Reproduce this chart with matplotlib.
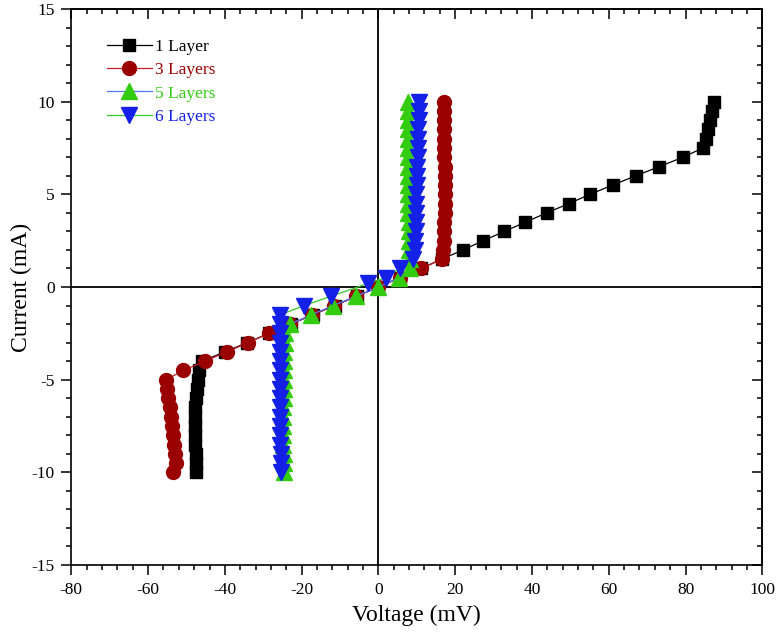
import matplotlib
matplotlib.use("Agg")
import matplotlib.pyplot as plt
from matplotlib.ticker import MultipleLocator

plt.rcParams['font.family'] = ['Liberation Serif', 'DejaVu Serif']
plt.rcParams['axes.unicode_minus'] = False

# Current values (mA), common to all series
current = [-10, -9.5, -9, -8.5, -8, -7.5, -7, -6.5, -6, -5.5, -5, -4.5, -4, -3.5, -3,
           -2.5, -2, -1.5, -1, -0.5, 0, 0.5, 1, 1.5, 2, 2.5, 3, 3.5, 4, 4.5, 5, 5.5,
           6, 6.5, 7, 7.5, 8, 8.5, 9, 9.5, 10]

v_1layer = [-47.4, -47.5, -47.6, -47.7, -47.8, -47.8, -47.8, -47.7, -47.5, -47.3, -47.1,
            -46.8, -46.0, -40.0, -34.2, -28.5, -22.8, -17.1, -11.4, -5.7, 0.0, 5.5, 11.0,
            16.5, 22.0, 27.3, 32.8, 38.3, 43.8, 49.6, 55.1, 61.0, 67.0, 73.2, 79.3, 84.5,
            85.2, 85.8, 86.4, 87.0, 87.5]

v_3layers = [-53.4, -52.7, -52.9, -53.2, -53.5, -53.7, -54.0, -54.3, -54.7, -55.0, -55.3,
             -50.8, -45.2, -39.5, -33.9, -28.6, -23.0, -17.2, -11.5, -5.8, 0.0, 5.6, 11.2,
             16.5, 16.8, 17.0, 17.1, 17.2, 17.3, 17.4, 17.4, 17.4, 17.3, 17.3, 17.2, 17.2,
             17.2, 17.1, 17.1, 17.1, 17.1]

v_5layers = [-24.6, -24.7, -24.7, -24.8, -24.8, -24.8, -24.8, -24.8, -24.7, -24.7, -24.6,
             -24.6, -24.5, -24.5, -24.4, -24.4, -23.0, -17.6, -11.8, -5.9, 0.0, 5.3, 8.2,
             8.1, 8.0, 8.0, 7.9, 7.9, 7.8, 7.8, 7.8, 7.8, 7.8, 7.8, 7.7, 7.7, 7.7, 7.7,
             7.7, 7.7, 7.7]

current_6 = [-10, -9.5, -9, -8.5, -8, -7.5, -7, -6.5, -6, -5.5, -5, -4.5, -4, -3.5, -3,
             -2.5, -2, -1.5, -1, -0.5, 0.2, 0.5, 1, 1.5, 2, 2.5, 3, 3.5, 4, 4.5, 5, 5.5,
             6, 6.5, 7, 7.5, 8, 8.5, 9, 9.5, 10]
v_6layers = [-25.4, -25.5, -25.5, -25.6, -25.6, -25.6, -25.6, -25.6, -25.6, -25.6, -25.6,
             -25.6, -25.6, -25.6, -25.6, -25.6, -25.6, -25.6, -19.3, -12.4, -2.6, 1.9, 5.6,
             9.0, 9.5, 9.6, 9.7, 9.8, 9.8, 9.9, 9.9, 10.0, 10.0, 10.1, 10.2, 10.3, 10.4,
             10.4, 10.5, 10.5, 10.5]

labels = ['1 Layer', '3 Layers', '5 Layers', '6 Layers']

fig = plt.figure(figsize=(7.77, 6.36), dpi=100)
ax = fig.add_axes([0.0918, 0.1116, 0.8893, 0.8742])

ax.axhline(0, color='black', lw=1.3, zorder=1)
ax.axvline(0, color='black', lw=1.3, zorder=1)

c_red = '#9B0000'
c_green = '#33CC11'
c_blue = '#1420E6'

ax.plot(v_1layer, current, color='black', lw=0.9, marker='s', ms=8,
        mfc='black', mec='black', label=labels[0], zorder=3)
ax.plot(v_3layers, current, color='#C81E2A', lw=0.9, marker='o', ms=10,
        mfc=c_red, mec=c_red, label=labels[1], zorder=4)
ax.plot(v_5layers, current, color='#5577FF', lw=0.9, marker='^', ms=11,
        mfc=c_green, mec=c_green, label=labels[2], zorder=5)
ax.plot(v_6layers, current_6, color='#33CC22', lw=0.9, marker='v', ms=11,
        mfc=c_blue, mec=c_blue, label=labels[3], zorder=6)

ax.set_xlim(-80, 100)
ax.set_ylim(-15, 15)
ax.xaxis.set_major_locator(MultipleLocator(20))
ax.xaxis.set_minor_locator(MultipleLocator(4))
ax.yaxis.set_major_locator(MultipleLocator(5))
ax.yaxis.set_minor_locator(MultipleLocator(1))

ax.tick_params(which='both', direction='out', top=False, right=False,
               labelsize=12.5, width=1.1, colors='black')
ax.tick_params(which='major', length=7, pad=5)
ax.tick_params(which='minor', length=3.5)

secx = ax.secondary_xaxis('top')
secx.xaxis.set_major_locator(MultipleLocator(20))
secx.xaxis.set_minor_locator(MultipleLocator(4))
secx.tick_params(which='both', direction='in', labeltop=False, width=1.1)
secx.tick_params(which='major', length=7)
secx.tick_params(which='minor', length=3.5)
secy = ax.secondary_yaxis('right')
secy.yaxis.set_major_locator(MultipleLocator(5))
secy.yaxis.set_minor_locator(MultipleLocator(1))
secy.tick_params(which='both', direction='in', labelright=False, width=1.1)
secy.tick_params(which='major', length=7)
secy.tick_params(which='minor', length=3.5)

for s in list(ax.spines.values()):
    s.set_linewidth(1.2)
secx.spines['top'].set_linewidth(1.2)
secy.spines['right'].set_linewidth(1.2)

ax.set_xlabel('Voltage (mV)', fontsize=17, labelpad=5)
ax.set_ylabel('Current (mA)', fontsize=17, labelpad=0)

leg = ax.legend(loc='upper left', bbox_to_anchor=(0.051, 0.947), frameon=False,
                fontsize=12.5, handlelength=2.6, handletextpad=0.2, labelspacing=0.42,
                borderpad=0, borderaxespad=0)
for txt, col in zip(leg.get_texts(), ['black', c_red, c_green, c_blue]):
    txt.set_color(col)

fig.savefig('out.png', dpi=100)
